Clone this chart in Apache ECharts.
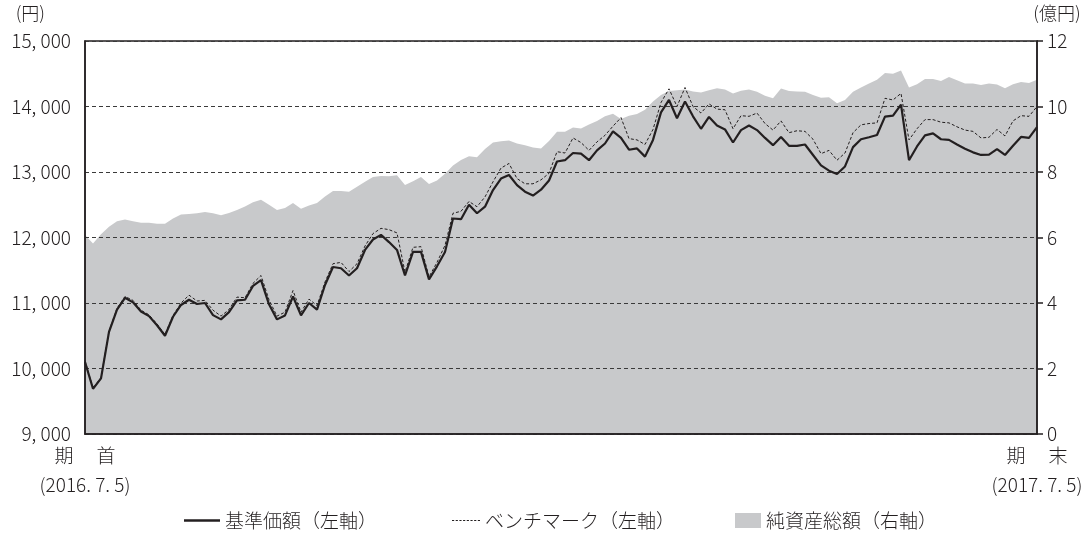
<!DOCTYPE html>
<html>
<head>
<meta charset="utf-8">
<script src="https://cdn.jsdelivr.net/npm/echarts@6/dist/echarts.min.js"></script>
<style>
  html, body { margin: 0; padding: 0; background: #fff; }
  #chart { width: 1092px; height: 540px; }
</style>
</head>
<body>
<div id="chart"></div>
<script>
// 基準価額（円）
var navValues = [
    10100, 9690, 9850, 10560, 10900, 11080, 11010, 10870, 10800, 10660,
    10500, 10790, 10970, 11050, 10985, 11000, 10815, 10750, 10860, 11040,
    11050, 11260, 11350, 10980, 10750, 10810, 11100, 10810, 11000, 10900,
    11275, 11550, 11530, 11420, 11530, 11810, 11970, 12040, 11930, 11810,
    11420, 11780, 11780, 11360, 11560, 11780, 12290, 12280, 12500, 12370,
    12470, 12725, 12900, 12955, 12800, 12700, 12640, 12730, 12870, 13160,
    13180, 13290, 13280, 13180, 13330, 13435, 13620, 13520, 13340, 13360,
    13235, 13490, 13910, 14100, 13820, 14075, 13850, 13660, 13840, 13710,
    13650, 13450, 13640, 13710, 13640, 13520, 13410, 13535, 13400, 13400,
    13420, 13260, 13100, 13020, 12970, 13085, 13380, 13500, 13530, 13565,
    13845, 13860, 14030, 13180, 13390, 13560, 13590, 13500, 13490, 13420,
    13355, 13300, 13260, 13265, 13350, 13260, 13400, 13535, 13520, 13685
];

// ベンチマーク（円）
var bmValues = [
    10120, 9700, 9860, 10570, 10920, 11100, 11040, 10890, 10820, 10680,
    10520, 10810, 11000, 11120, 11030, 11040, 10890, 10800, 10900, 11090,
    11080, 11300, 11420, 11050, 10800, 10860, 11190, 10860, 11060, 10960,
    11320, 11600, 11620, 11480, 11600, 11870, 12060, 12140, 12120, 12070,
    11470, 11850, 11860, 11400, 11620, 11880, 12370, 12400, 12550, 12470,
    12620, 12850, 13060, 13130, 12900, 12820, 12820, 12880, 12980, 13310,
    13290, 13520, 13450, 13330, 13460, 13560, 13700, 13830, 13510, 13490,
    13420, 13650, 14060, 14270, 14000, 14290, 14000, 13900, 14040, 13960,
    13950, 13660, 13860, 13850, 13900, 13740, 13640, 13780, 13600, 13630,
    13620, 13500, 13280, 13330, 13180, 13290, 13600, 13720, 13740, 13750,
    14125, 14100, 14200, 13490, 13660, 13800, 13800, 13760, 13750, 13690,
    13640, 13620, 13520, 13530, 13650, 13550, 13780, 13860, 13850, 14000
];

// 純資産総額（億円）
var assetValues = [
    6.08, 5.82, 6.10, 6.33, 6.50, 6.55, 6.50, 6.45, 6.45, 6.42,
    6.42, 6.58, 6.70, 6.72, 6.74, 6.78, 6.74, 6.68, 6.75, 6.84,
    6.95, 7.08, 7.15, 7.00, 6.84, 6.90, 7.05, 6.88, 6.98, 7.05,
    7.25, 7.42, 7.42, 7.40, 7.55, 7.70, 7.85, 7.88, 7.87, 7.90,
    7.60, 7.72, 7.85, 7.63, 7.74, 7.95, 8.20, 8.37, 8.48, 8.45,
    8.70, 8.90, 8.94, 8.96, 8.87, 8.82, 8.75, 8.72, 8.95, 9.23,
    9.23, 9.36, 9.33, 9.45, 9.56, 9.70, 9.78, 9.62, 9.72, 9.77,
    9.90, 10.15, 10.35, 10.47, 10.50, 10.52, 10.46, 10.43, 10.50, 10.56,
    10.52, 10.40, 10.48, 10.52, 10.45, 10.33, 10.25, 10.55, 10.47, 10.46,
    10.45, 10.35, 10.27, 10.28, 10.10, 10.20, 10.45, 10.58, 10.70, 10.82,
    11.02, 11.00, 11.10, 10.58, 10.68, 10.84, 10.84, 10.78, 10.90, 10.80,
    10.70, 10.70, 10.66, 10.70, 10.67, 10.56, 10.68, 10.75, 10.72, 10.82
];

var startLabel = '期　 首\n(2016. 7. 5)';
var endLabel = '期　 末\n(2017. 7. 5)';
var categories = navValues.map(function (v, i) { return i; });
var lastIndex = categories.length - 1;

var ink = '#231f20';
var areaGray = '#c8c9cb';
var font = '"Noto Sans CJK JP", "Noto Sans", sans-serif';

// 凡例のアイコン（実線・点線）
var solidIcon = 'path://M0,0H36V2.4H0Z';
var dashIcon = 'path://';
for (var d = 0; d < 27; d += 3.4) {
    dashIcon += 'M' + d + ',0H' + (d + 2) + 'V1.1H' + d + 'Z';
}

function legendItem(name, icon, left, w, h) {
    return {
        left: left,
        bottom: 5,
        itemWidth: w,
        itemHeight: h,
        selectedMode: false,
        textStyle: { fontFamily: font, fontSize: 19, color: ink, fontWeight: 300 },
        data: [{ name: name, icon: icon, itemStyle: { color: name === '純資産総額（右軸）' ? areaGray : ink } }]
    };
}

var chart = echarts.init(document.getElementById('chart'));

var option = {
    animation: false,
    textStyle: { fontFamily: font, color: ink },
    grid: {
        left: 85, right: 55, top: 41, bottom: 106,
        show: true, borderColor: ink, borderWidth: 1.5
    },
    legend: [
        legendItem('基準価額（左軸）', solidIcon, 179, 36, 14),
        legendItem('ベンチマーク（左軸）', dashIcon, 447, 28, 14),
        legendItem('純資産総額（右軸）', 'rect', 730, 26, 15)
    ],
    xAxis: {
        type: 'category',
        data: categories,
        boundaryGap: false,
        axisLine: { show: true, lineStyle: { color: ink, width: 1.5 } },
        axisTick: { show: false },
        splitLine: { show: false },
        axisLabel: {
            interval: function (index) { return index === 0 || index === lastIndex; },
            formatter: function (value, index) { return index === 0 ? startLabel : endLabel; },
            fontSize: 19, fontWeight: 300, lineHeight: 29, color: ink, margin: 7
        }
    },
    yAxis: [
        {
            type: 'value',
            min: 9000, max: 15000, interval: 1000,
            name: '(円)',
            nameLocation: 'end',
            nameGap: 28,
            nameTextStyle: { fontSize: 18, fontWeight: 300, color: ink, align: 'right', verticalAlign: 'middle', padding: [0, 40, 0, 0] },
            axisLine: { show: true, lineStyle: { color: ink, width: 1.5 } },
            axisTick: { show: false },
            axisLabel: {
                fontSize: 19, fontWeight: 300, color: ink, margin: 14,
                formatter: function (v) { return String(v).replace(/(\d)(?=(\d{3})$)/, '$1, '); }
            },
            splitLine: { show: true, lineStyle: { color: '#3a3a3a', width: 1, type: [4, 3] } }
        },
        {
            type: 'value',
            min: 0, max: 12, interval: 2,
            name: '(億円)',
            nameLocation: 'end',
            nameGap: 28,
            nameTextStyle: { fontSize: 18, fontWeight: 300, color: ink, align: 'center', verticalAlign: 'middle', padding: [0, 0, 0, 40] },
            axisLine: { show: true, lineStyle: { color: ink, width: 1.5 } },
            axisTick: { show: true, inside: false, length: 6, lineStyle: { color: ink, width: 1.5 } },
            axisLabel: { fontSize: 19, fontWeight: 300, color: ink, margin: 10 },
            splitLine: { show: false }
        }
    ],
    series: [
        {
            name: '純資産総額（右軸）',
            type: 'line',
            yAxisIndex: 1,
            data: assetValues,
            symbol: 'none',
            z: -1,
            color: areaGray,
            lineStyle: { width: 0 },
            areaStyle: { color: areaGray, opacity: 1 }
        },
        {
            name: 'ベンチマーク（左軸）',
            type: 'line',
            data: bmValues,
            symbol: 'none',
            color: ink,
            lineStyle: { color: ink, width: 1, type: [3, 2] }
        },
        {
            name: '基準価額（左軸）',
            type: 'line',
            data: navValues,
            symbol: 'none',
            color: ink,
            lineStyle: { color: ink, width: 2.2 }
        }
    ]
};

chart.setOption(option);
</script>
</body>
</html>
